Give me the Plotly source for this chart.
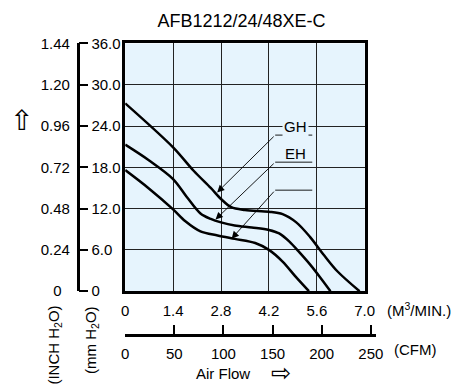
import plotly.graph_objects as go

# ---------------- data ----------------
title_text = "AFB1212/24/48XE-C"

gh_flow = [0, 1.4, 2.0, 2.5, 2.8, 3.1, 3.5, 4.2, 4.6, 5.0, 5.4, 5.8, 6.2, 6.85]
gh_pres = [27.3, 20.9, 17.5, 15.0, 13.4, 12.2, 11.8, 11.55, 11.2, 10.0, 7.9, 5.3, 2.9, 0]

eh_flow = [0, 0.7, 1.4, 1.8, 2.2, 2.5, 2.8, 3.2, 3.7, 4.2, 4.5, 4.8, 5.1, 5.4, 5.7, 6.0]
eh_pres = [21.3, 19.0, 16.3, 13.7, 11.3, 10.5, 10.0, 9.55, 9.25, 8.9, 8.4, 7.2, 5.6, 3.9, 2.0, 0]

fh_flow = [0, 0.7, 1.4, 1.75, 2.2, 2.7, 3.2, 3.8, 4.2, 4.6, 5.0, 5.37]
fh_pres = [17.6, 14.9, 11.9, 10.2, 8.7, 8.1, 7.6, 7.0, 6.0, 4.3, 2.0, 0]

series_names = ["GH", "EH", ""]

flow_ticks = [0, 1.4, 2.8, 4.2, 5.6, 7.0]
flow_labels = ["0", "1.4", "2.8", "4.2", "5.6", "7.0"]
cfm_ticks = [0, 50, 100, 150, 200, 250]
cfm_labels = ["0", "50", "100", "150", "200", "250"]
mm_ticks = [0, 6, 12, 18, 24, 30, 36]
mm_labels = ["0", "6.0", "12.0", "18.0", "24.0", "30.0", "36.0"]
inch_labels = ["0", "0.24", "0.48", "0.72", "0.96", "1.20", "1.44"]

# ---------------- layout helpers ----------------
W, H = 461, 392
FONT = "Liberation Sans, Arial, sans-serif"
BG = "#E6F4FD"

def px(x):
    return x / W

def py(y):
    return 1 - y / H

x_dom = [px(125), px(372)]
y_dom = [py(295), py(36)]

fig = go.Figure()
for fl, pr, nm in zip([gh_flow, eh_flow, fh_flow], [gh_pres, eh_pres, fh_pres], series_names):
    fig.add_trace(go.Scatter(x=fl, y=pr, mode="lines", name=nm,
                             line=dict(color="black", width=2.5, shape="spline", smoothing=0.9),
                             hoverinfo="skip"))

# empty traces so the secondary axes get drawn
fig.add_trace(go.Scatter(x=[], y=[], xaxis="x", yaxis="y2", hoverinfo="skip", showlegend=False))
fig.add_trace(go.Scatter(x=[], y=[], xaxis="x", yaxis="y3", hoverinfo="skip", showlegend=False))
fig.add_trace(go.Scatter(x=[], y=[], xaxis="x3", yaxis="y4", hoverinfo="skip", showlegend=False))

# centre the lone "0" in the inch column
inch_text = [t if len(t) > 1 else t + "\u00a0\u00a0" for t in inch_labels]

fig.update_layout(
    width=W, height=H,
    margin=dict(l=0, r=0, t=0, b=0),
    paper_bgcolor="white",
    plot_bgcolor="rgba(0,0,0,0)",
    showlegend=False,
    font=dict(family=FONT, size=15, color="black"),
    title=dict(text=title_text, x=px(245), y=py(12), xanchor="center", yanchor="middle",
               xref="paper", yref="paper", font=dict(size=18, family=FONT, color="black")),
    xaxis=dict(domain=x_dom, range=[0, 7.0], tickvals=flow_ticks, ticktext=flow_labels,
               showgrid=True, gridcolor="#222", gridwidth=1, zeroline=False,
               showline=True, linecolor="black", linewidth=2.5, mirror=True,
               ticks="", anchor="y", ticklabelstandoff=4),
    yaxis=dict(domain=y_dom, range=[0, 36], tickvals=mm_ticks, showticklabels=False,
               showgrid=True, gridcolor="#222", gridwidth=1, zeroline=False,
               showline=True, linecolor="black", linewidth=2.5, mirror=True, ticks=""),
    yaxis2=dict(overlaying="y", anchor="free", position=px(76), side="right",
                range=[0, 36], tickvals=mm_ticks, ticktext=mm_labels,
                showgrid=False, zeroline=False, showline=True, linecolor="black", linewidth=2.5,
                ticks="outside", ticklen=9, tickwidth=1.5, tickcolor="black"),
    yaxis3=dict(overlaying="y", anchor="free", position=px(68), side="left",
                range=[0, 36], tickvals=mm_ticks, ticktext=inch_text,
                showgrid=False, zeroline=False, showline=False, ticks=""),
    yaxis4=dict(domain=[py(339.5), py(339.5) + 0.004], range=[0, 1], anchor="x3",
                showgrid=False, zeroline=False, showline=False, showticklabels=False, ticks=""),
    xaxis3=dict(anchor="y4", domain=[px(125), px(384)],
                range=[0, 250 * 259 / 253.3], tickvals=cfm_ticks, ticktext=cfm_labels,
                showgrid=False, zeroline=False, showline=True, linecolor="black", linewidth=2.5,
                ticks="inside", ticklen=9, tickwidth=1.5, tickcolor="black", side="bottom",
                ticklabelstandoff=4),
)

# plot background
fig.add_shape(type="rect", xref="x domain", yref="y domain", x0=0, x1=1, y0=0, y1=1,
              fillcolor=BG, line=dict(width=0), layer="below")

# leader lines with arrows
tip_x = [2.687, 2.64, 3.11]
tip_y = [14.35, 10.42, 7.64]
tail_x = 4.384
tail_y = [22.68, 18.75, 14.68]
end_x = 5.467
for i in range(3):
    fig.add_annotation(x=tip_x[i], y=tip_y[i], ax=tail_x, ay=tail_y[i], axref="x", ayref="y",
                       xref="x", yref="y", text="", showarrow=True, arrowhead=2,
                       arrowsize=1.6, arrowwidth=0.9, arrowcolor="black", standoff=0)
    fig.add_shape(type="line", xref="x", yref="y", x0=tail_x, x1=end_x, y0=tail_y[i], y1=tail_y[i],
                  line=dict(color="black", width=0.9))

label_y = [23.9, 20.0]
for i in range(2):
    fig.add_annotation(x=4.98, y=label_y[i], xref="x", yref="y", text=series_names[i],
                       showarrow=False, font=dict(size=15, family=FONT), bgcolor=BG if i == 0 else None,
                       borderpad=1)

# unit labels
fig.add_annotation(x=px(393), y=py(314), xref="paper", yref="paper", xanchor="left", yanchor="middle",
                   text="(M<sup>3</sup>/MIN.)", showarrow=False, font=dict(size=15, family=FONT))
fig.add_annotation(x=px(400), y=py(356), xref="paper", yref="paper", xanchor="left", yanchor="middle",
                   text="(CFM)", showarrow=False, font=dict(size=15, family=FONT))
fig.add_annotation(x=px(226), y=py(381), xref="paper", yref="paper", xanchor="center", yanchor="middle",
                   text="Air Flow", showarrow=False, font=dict(size=15, family=FONT))
fig.add_annotation(x=px(286), y=py(381), xref="paper", yref="paper", xanchor="center", yanchor="middle",
                   text="\u21E8", showarrow=False, font=dict(size=24, family="DejaVu Sans"))
fig.add_annotation(x=px(18), y=py(117), xref="paper", yref="paper", xanchor="center", yanchor="middle",
                   text="\u21E7", showarrow=False, font=dict(size=28, family="DejaVu Sans"))
fig.add_annotation(x=px(52), y=py(308), xref="paper", yref="paper", xanchor="center", yanchor="top",
                   text="(INCH H<sub>2</sub>O)", textangle=-90, showarrow=False, font=dict(size=15, family=FONT))
fig.add_annotation(x=px(90), y=py(308), xref="paper", yref="paper", xanchor="center", yanchor="top",
                   text="(mm H<sub>2</sub>O)", textangle=-90, showarrow=False, font=dict(size=15, family=FONT))

fig.write_html("out.html", config={"displayModeBar": False},
               post_script="document.body.style.margin='0';document.body.style.overflow='hidden';")
